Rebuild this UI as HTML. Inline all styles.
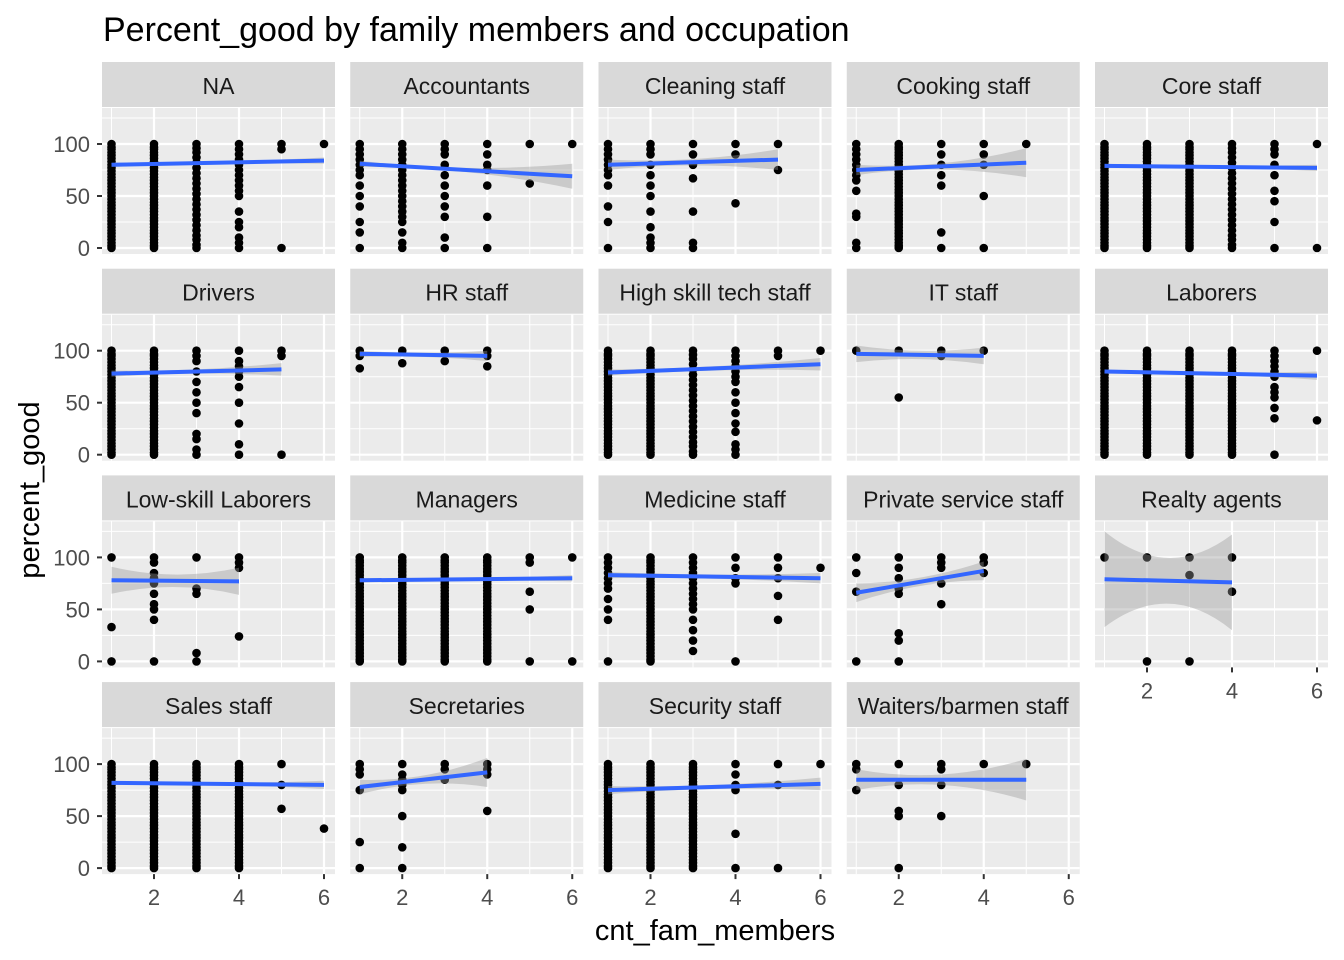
<!DOCTYPE html>
<html><head><meta charset="utf-8">
<style>
html,body{margin:0;padding:0;background:#fff;}
svg{display:block;font-family:"Liberation Sans",Arial,sans-serif;}
</style></head>
<body>
<svg id="chart" width="1344" height="960" viewBox="0 0 1344 960" xmlns="http://www.w3.org/2000/svg">
<text x="103" y="41" font-size="34" fill="#000">Percent_good by family members and occupation</text>
<text x="715" y="940" font-size="29" fill="#000" text-anchor="middle">cnt_fam_members</text>
<text x="0" y="0" font-size="29" fill="#000" text-anchor="middle" transform="translate(39,490) rotate(-90)">percent_good</text>
<g id="panels"></g>
</svg>
<script>
const occupations = ["NA","Accountants","Cleaning staff","Cooking staff","Core staff","Drivers","HR staff","High skill tech staff","IT staff","Laborers","Low-skill Laborers","Managers","Medicine staff","Private service staff","Realty agents","Sales staff","Secretaries","Security staff","Waiters/barmen staff"];
const denseCol = [0,2,5,8,11,14,17,20,23,26,29,32,35,38,41,44,47,50,53,56,59,62,65,68,71,74,77,80,83,86,89,92,95,97,100];
const midDense = [0,3,8,12,17,22,27,32,37,42,47,52,57,62,67,72,77,82,87,92,96,100];
const points = [
 [denseCol,denseCol,midDense,[0,5,10,20,25,35,50,55,60,65,70,75,80,85,90,95,100],[0,95,100],[100]],
 [[0,15,25,40,50,60,70,75,80,85,90,95,100],[0,5,15,25,30,35,40,45,50,55,60,65,70,75,80,85,90,95,100],[0,10,30,40,50,60,70,80,90,95,100],[0,30,60,75,80,90,100],[62,100],[100]],
 [[0,25,40,60,70,75,80,85,90,95,100],[0,5,10,20,35,50,60,70,80,90,95,100],[0,5,35,67,80,90,100],[43,90,100],[75,100],[]],
 [[0,5,30,33,55,65,70,75,80,85,90,95,100],denseCol,[0,15,60,70,80,90,100],[0,50,80,90,100],[100],[]],
 [denseCol,denseCol,denseCol,midDense,[0,25,45,55,70,80,90,95,100],[0,100]],
 [denseCol,denseCol,[0,5,15,20,40,50,60,70,80,90,95,100],[0,10,30,50,65,75,80,85,90,100],[0,95,100],[]],
 [[83,95,100],[88,100],[90,100],[85,95,100],[],[]],
 [denseCol,denseCol,midDense,[0,5,10,22,30,40,50,60,70,75,80,85,90,95,100],[95,100],[100]],
 [[100],[55,100],[95,100],[100],[],[]],
 [denseCol,denseCol,denseCol,denseCol,[0,35,45,55,60,65,75,80,85,90,95,100],[33,100]],
 [[0,33,100],[0,40,50,55,65,75,80,85,95,100],[0,8,65,70,100],[24,90,95,100],[],[]],
 [denseCol,denseCol,denseCol,denseCol,[0,50,67,95,100],[0,100]],
 [[0,40,50,60,70,75,80,85,90,95,100],denseCol,[10,20,30,40,50,55,60,65,70,75,80,85,90,95,100],[0,75,80,90,100],[40,63,80,90,100],[90]],
 [[0,67,85,100],[0,20,27,65,70,80,90,100],[55,75,90,95,100],[85,95,100],[],[]],
 [[100],[0,100],[0,83,100],[67,100],[],[]],
 [denseCol,denseCol,denseCol,denseCol,[57,80,100],[38]],
 [[0,25,75,90,95,100],[0,20,50,75,80,85,90,100],[85,95,100],[55,90,95,100],[],[]],
 [denseCol,denseCol,denseCol,[0,33,75,80,90,100],[0,80,100],[100]],
 [[75,95,100],[0,50,55,80,100],[50,80,95,100],[100],[100],[]]
];
const fitStartX = [1,1,1,1,1,1,1,1,1,1,1,1,1,1,1,1,1,1,1];
const fitEndX   = [6,6,5,5,6,5,4,6,4,6,4,6,6,4,4,6,4,6,5];
const fitStartY = [80,81,80,75,79,78,97,79,97,80,78,78,83,66,79,82,78,75,85];
const fitEndY   = [84,69,85,82,77,82,95,87,95,76,77,80,80,87,76,80,92,81,85];
const seStart = [2,3,5,5,2,3,3,3,8,2,13,2,3,9,46,2,7,4,10];
const seMid   = [1,2,3,3,1,2,2,2,4,1,6,1,2,4,22,1,4,2,5];
const seEnd   = [3,12,10,14,3,6,5,6,8,4,13,3,5,9,46,4,14,6,20];
const xTicks = [2,4,6];
const yTicks = [0,50,100];

const NS="http://www.w3.org/2000/svg";
const root=document.getElementById('panels');
const colL=i=>102+248.25*i, PW=233, PH=146, SH=45;
const rowT=r=>62+206.7*r;
function mk(t,a,p){const e=document.createElementNS(NS,t);for(const k in a)e.setAttribute(k,a[k]);(p||root).appendChild(e);return e;}
const xs=(c,v)=>colL(c)+9.5+(v-1)*42.5;
const ys=(r,v)=>rowT(r)+SH+1+140-v*1.04;

occupations.forEach((name,p)=>{
  const r=Math.floor(p/5), c=p%5;
  const g=mk('g',{});
  
  
  const st=mk('rect',{x:colL(c),y:rowT(r),width:PW,height:SH,fill:'#D9D9D9'},g);
  
  
  const tx=mk('text',{x:colL(c)+PW/2,y:rowT(r)+32,'font-size':23,fill:'#1A1A1A','text-anchor':'middle'},g);
  tx.textContent=name;
  
  
  const top=rowT(r)+SH+1;
  const bg=mk('rect',{x:colL(c),y:top,width:PW,height:PH,fill:'#EBEBEB'},g);
  
  
  [25,75,125].forEach(v=>mk('line',{x1:colL(c),x2:colL(c)+PW,y1:ys(r,v),y2:ys(r,v),stroke:'#fff','stroke-width':1},g));
  [1,3,5].forEach(v=>mk('line',{x1:xs(c,v),x2:xs(c,v),y1:top,y2:top+PH,stroke:'#fff','stroke-width':1},g));
  yTicks.forEach(v=>mk('line',{x1:colL(c),x2:colL(c)+PW,y1:ys(r,v),y2:ys(r,v),stroke:'#fff','stroke-width':2.2},g));
  xTicks.forEach(v=>mk('line',{x1:xs(c,v),x2:xs(c,v),y1:top,y2:top+PH,stroke:'#fff','stroke-width':2.2},g));
  points[p].forEach((col,xi)=>col.forEach(v=>{
    const d=mk('circle',{cx:xs(c,xi+1),cy:ys(r,v),r:4.3,fill:'#000'},g);
    
    
  }));
  const x0=fitStartX[p],x1=fitEndX[p],y0=fitStartY[p],y1=fitEndY[p],xm=(x0+x1)/2,ym=(y0+y1)/2;
  const up=`M${xs(c,x0)},${ys(r,y0+seStart[p])} Q${xs(c,xm)},${ys(r,ym+2*seMid[p]-(seStart[p]+seEnd[p])/2)} ${xs(c,x1)},${ys(r,y1+seEnd[p])}`;
  const lo=`L${xs(c,x1)},${ys(r,y1-seEnd[p])} Q${xs(c,xm)},${ys(r,ym-2*seMid[p]+(seStart[p]+seEnd[p])/2)} ${xs(c,x0)},${ys(r,y0-seStart[p])} Z`;
  const rib=mk('path',{d:up+' '+lo,fill:'#999999','fill-opacity':0.4},g);
  
  
  const ln=mk('line',{x1:xs(c,x0),y1:ys(r,y0),x2:xs(c,x1),y2:ys(r,y1),stroke:'#3366FF','stroke-width':4},g);
  
  
  if(c===0){
    yTicks.forEach(v=>{
      mk('line',{x1:colL(0)-5,x2:colL(0),y1:ys(r,v),y2:ys(r,v),stroke:'#333','stroke-width':2},g);
      const t=mk('text',{x:colL(0)-12,y:ys(r,v)+8,'font-size':22,fill:'#4D4D4D','text-anchor':'end'},g);
      t.textContent=v;
      
      
    });
  }
  if(r===3||p===14){
    xTicks.forEach(v=>{
      mk('line',{x1:xs(c,v),x2:xs(c,v),y1:top+PH,y2:top+PH+5,stroke:'#333','stroke-width':2},g);
      const t=mk('text',{x:xs(c,v),y:top+PH+31,'font-size':22,fill:'#4D4D4D','text-anchor':'middle'},g);
      t.textContent=v;
      
      
    });
  }
});
</script>
</body></html>
